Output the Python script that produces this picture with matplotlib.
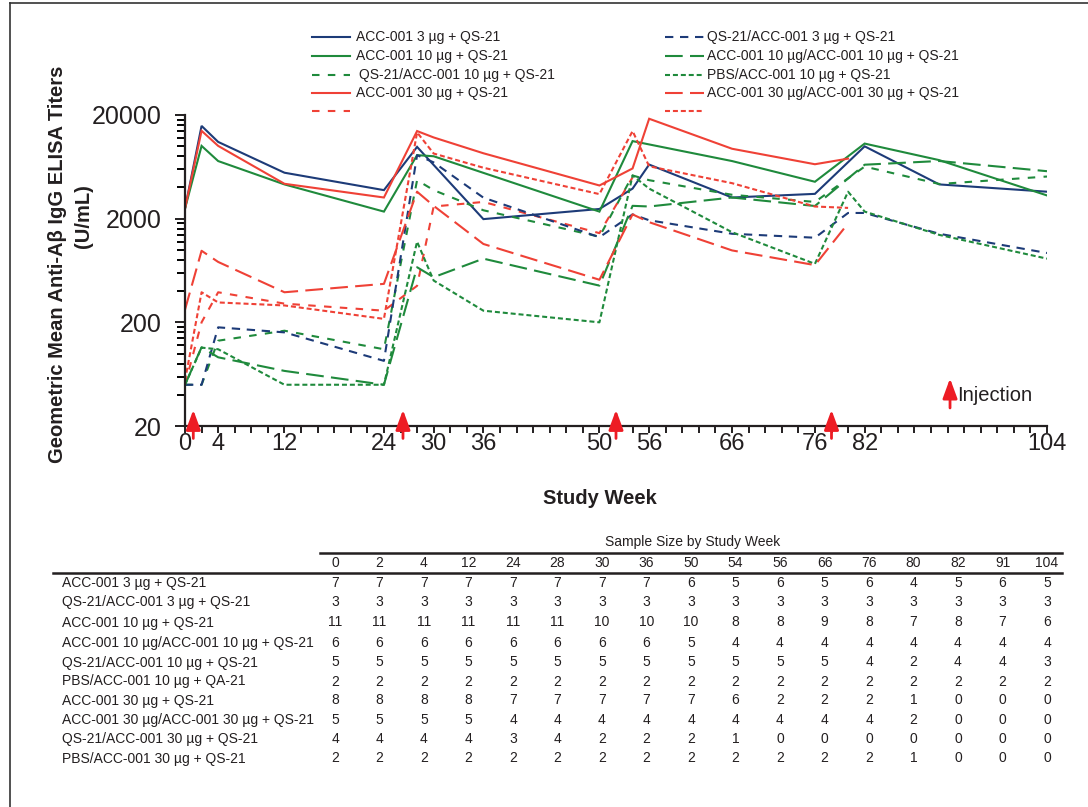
import numpy as np
import matplotlib
matplotlib.use("Agg")
import matplotlib.pyplot as plt
from matplotlib.lines import Line2D
from matplotlib.ticker import FixedLocator, NullFormatter

plt.rcParams['font.family'] = ['Liberation Sans', 'DejaVu Sans']

nan = np.nan
weeks = [0, 2, 4, 12, 24, 28, 30, 36, 50, 54, 56, 66, 76, 80, 82, 91, 104]

acc3 = [2500, 15700, 11000, 5550, 3770, 9850, nan, 1980, 2480, 3900, 6650, 3200, 3470, nan, 9970, 4280, 3640]
qs_acc3 = [50, 50, 179, 160, 85, 8200, 6980, 3190, 1325, 2200, 1930, 1430, 1310, 2270, 2270, 1430, 933]
acc10 = [2500, 10070, 7190, 4280, 2340, 8200, 8000, nan, 2340, 11200, nan, 7190, 4540, nan, 10600, 7340, 3350]
acc10_acc10 = [50, 115, 92, 68, 50, 680, 545, 823, 452, 2660, 2620, 3200, 2650, nan, 6630, 7200, 5740]
qs_acc10 = [50, 50, 133, 166, 110, 4700, 3770, 2410, 1340, 5220, 4700, 3400, 2900, nan, 6360, 4320, 5100]
pbs_acc10 = [50, 114, 110, 50, 50, 1200, 506, 259, 200, 5220, 3900, 1480, 733, 3640, 2340, 1395, 823]
acc30 = [2500, 14080, 10070, 4340, 3200, 14000, 12150, 8550, 4180, 6100, 18400, 9450, 6700, 7590, nan, nan, nan]
acc30_acc30 = [265, 980, 765, 390, 470, 3640, 2660, 1140, 515, 2200, 1850, 988, 713, 1800, nan, nan, nan]
qs_acc30 = [50, 200, 390, 303, 259, 450, 2620, 2900, 1450, 5000, nan, nan, nan, nan, nan, nan, nan]
pbs_acc30 = [55, 390, 311, 291, 216, 13600, 8500, 6200, 3450, 14000, 6400, 4400, 2620, 2540, nan, nan, nan]

xtick_labels = [0, 4, 12, 24, 30, 36, 50, 56, 66, 76, 82, 104]
ytick_labels = [20, 200, 2000, 20000]
injection_weeks = [1, 26.3, 52, 78]

table_weeks = [0, 2, 4, 12, 24, 28, 30, 36, 50, 54, 56, 66, 76, 80, 82, 91, 104]
table_groups = [
    "ACC-001 3 µg + QS-21",
    "QS-21/ACC-001 3 µg + QS-21",
    "ACC-001 10 µg + QS-21",
    "ACC-001 10 µg/ACC-001 10 µg + QS-21",
    "QS-21/ACC-001 10 µg + QS-21",
    "PBS/ACC-001 10 µg + QA-21",
    "ACC-001 30 µg + QS-21",
    "ACC-001 30 µg/ACC-001 30 µg + QS-21",
    "QS-21/ACC-001 30 µg + QS-21",
    "PBS/ACC-001 30 µg + QS-21",
]
table_n = [
    [7, 7, 7, 7, 7, 7, 7, 7, 6, 5, 6, 5, 6, 4, 5, 6, 5],
    [3, 3, 3, 3, 3, 3, 3, 3, 3, 3, 3, 3, 3, 3, 3, 3, 3],
    [11, 11, 11, 11, 11, 11, 10, 10, 10, 8, 8, 9, 8, 7, 8, 7, 6],
    [6, 6, 6, 6, 6, 6, 6, 6, 5, 4, 4, 4, 4, 4, 4, 4, 4],
    [5, 5, 5, 5, 5, 5, 5, 5, 5, 5, 5, 5, 4, 2, 4, 4, 3],
    [2, 2, 2, 2, 2, 2, 2, 2, 2, 2, 2, 2, 2, 2, 2, 2, 2],
    [8, 8, 8, 8, 7, 7, 7, 7, 7, 6, 2, 2, 2, 1, 0, 0, 0],
    [5, 5, 5, 5, 4, 4, 4, 4, 4, 4, 4, 4, 4, 2, 0, 0, 0],
    [4, 4, 4, 4, 3, 4, 2, 2, 2, 1, 0, 0, 0, 0, 0, 0, 0],
    [2, 2, 2, 2, 2, 2, 2, 2, 2, 2, 2, 2, 2, 1, 0, 0, 0],
]

NAVY = '#1d3b78'
GREEN = '#1f8a3c'
RED = '#ef4136'
ARROW = '#ed1c24'
TXT = '#231f20'

SOLID = '-'
LONG = (0, (8.5, 3.5))
MED = (0, (3.6, 4.0))
NAVYD = (0, (4.0, 3.2))
DOT = (0, (2.4, 1.4))

# legend order: column 1 then column 2
series = [
    ("ACC-001 3 µg + QS-21", acc3, NAVY, SOLID),
    ("ACC-001 10 µg + QS-21", acc10, GREEN, SOLID),
    ("QS-21/ACC-001 10 µg + QS-21", qs_acc10, GREEN, MED),
    ("ACC-001 30 µg + QS-21", acc30, RED, SOLID),
    ("", qs_acc30, RED, MED),
    ("QS-21/ACC-001 3 µg + QS-21", qs_acc3, NAVY, NAVYD),
    ("ACC-001 10 µg/ACC-001 10 µg + QS-21", acc10_acc10, GREEN, LONG),
    ("PBS/ACC-001 10 µg + QS-21", pbs_acc10, GREEN, DOT),
    ("ACC-001 30 µg/ACC-001 30 µg + QS-21", acc30_acc30, RED, LONG),
    ("", pbs_acc30, RED, DOT),
]

W, H = 1088, 807
def fx(p): return p / W
def fy(p): return 1 - p / H

fig = plt.figure(figsize=(W / 100, H / 100), dpi=100)
ax = fig.add_axes([fx(185), fy(426), (1047 - 185) / W, (426 - 115) / H])

LW = 1.5
wk = np.array(weeks, dtype=float)
for label, vals, color, ls in series:
    v = np.array(vals, dtype=float)
    m = ~np.isnan(v)
    ax.plot(wk[m], v[m], color=color, linestyle=ls, lw=LW, solid_joinstyle='miter')

ax.set_yscale('log')
ax.set_ylim(20, 20000)
ax.set_xlim(0, 104)
ax.yaxis.set_major_locator(FixedLocator(ytick_labels))
ax.set_yticklabels([str(v) for v in ytick_labels])
minor = [20 * k * 10 ** n for n in range(3) for k in range(2, 10)]
ax.yaxis.set_minor_locator(FixedLocator(minor))
ax.yaxis.set_minor_formatter(NullFormatter())
xt = list(range(0, 105, 2))
ax.set_xticks(xt)
ax.set_xticklabels([str(t) if t in xtick_labels else '' for t in xt])

for s in ['top', 'right']:
    ax.spines[s].set_visible(False)
for s in ['left', 'bottom']:
    ax.spines[s].set_linewidth(1.6)
    ax.spines[s].set_color('#231f20')
ax.tick_params(axis='y', which='major', direction='out', length=7, width=1.4, labelsize=18, pad=10, colors=TXT)
ax.tick_params(axis='y', which='minor', direction='out', length=6, width=1.4)
ax.tick_params(axis='x', which='major', direction='out', length=5, width=1.4, labelsize=17, pad=0, colors=TXT)

# injection arrows
for w in injection_weeks:
    ax.annotate('', xy=(w, 0.052), xytext=(w, -0.040),
                xycoords=('data', 'axes fraction'), textcoords=('data', 'axes fraction'),
                arrowprops=dict(arrowstyle='-|>,head_length=0.6,head_width=0.22', mutation_scale=20,
                                lw=2, color=ARROW, shrinkA=0, shrinkB=0),
                annotation_clip=False)
ax.annotate('', xy=(0.8875, 0.153), xytext=(0.8875, 0.058), xycoords='axes fraction',
            arrowprops=dict(arrowstyle='-|>,head_length=0.6,head_width=0.22', mutation_scale=20,
                            lw=2, color=ARROW, shrinkA=0, shrinkB=0))
ax.text(0.896, 0.099, 'Injection', transform=ax.transAxes, fontsize=14.5, va='center', ha='left', color=TXT)

# axis titles
fig.text(fx(600), fy(498), 'Study Week', fontsize=14.5, fontweight='bold', ha='center', va='center', color=TXT)
fig.text(fx(58), fy(264), 'Geometric Mean Anti-Aβ IgG ELISA Titers', fontsize=14.5, fontweight='bold',
         rotation=90, ha='center', va='center', color=TXT)
fig.text(fx(84), fy(216), '(U/mL)', fontsize=14.5, fontweight='bold',
         rotation=90, ha='center', va='center', color=TXT)

# legend (two columns)
rows_y = [37, 56, 74.5, 93, 111]
for i, (label, vals, color, ls) in enumerate(series):
    col, row = divmod(i, 5)
    y = rows_y[row]
    if col == 0:
        x0, x1, xt0 = 312, 350, 356
        if row == 2:
            xt0 = 359
    else:
        x0, x1, xt0 = 665, 704, 707
    fig.add_artist(Line2D([fx(x0), fx(x1)], [fy(y), fy(y)], transform=fig.transFigure,
                          color=color, linestyle=ls, lw=LW))
    if label:
        fig.text(fx(xt0), fy(y), label, fontsize=10, ha='left', va='center', color=TXT)

# sample size table
fig.text(fx(693), fy(542), 'Sample Size by Study Week', fontsize=10, ha='center', va='center', color=TXT)
fig.add_artist(Line2D([fx(320), fx(1062)], [fy(553), fy(553)], transform=fig.transFigure, color='#231f20', lw=1.8))
fig.add_artist(Line2D([fx(53), fx(1062)], [fy(572.5), fy(572.5)], transform=fig.transFigure, color='#231f20', lw=1.8))
col_x = [335 + 44.5 * i for i in range(len(table_weeks))]
for cx, wv in zip(col_x, table_weeks):
    fig.text(fx(cx), fy(563), str(wv), fontsize=10, ha='center', va='center', color=TXT)
row_y = [583, 602, 622.5, 643, 662.5, 681.5, 700.5, 720, 739, 758.5]
for ry, name, ns in zip(row_y, table_groups, table_n):
    fig.text(fx(62), fy(ry), name, fontsize=10, ha='left', va='center', color=TXT)
    for cx, n in zip(col_x, ns):
        fig.text(fx(cx), fy(ry), str(n), fontsize=10, ha='center', va='center', color=TXT)

# outer frame
fig.add_artist(Line2D([fx(10), fx(10)], [fy(3), fy(807)], transform=fig.transFigure, color='#333333', lw=1.2))
fig.add_artist(Line2D([fx(10), fx(1088)], [fy(3), fy(3)], transform=fig.transFigure, color='#333333', lw=1.2))

fig.savefig('out.png', dpi=100)
